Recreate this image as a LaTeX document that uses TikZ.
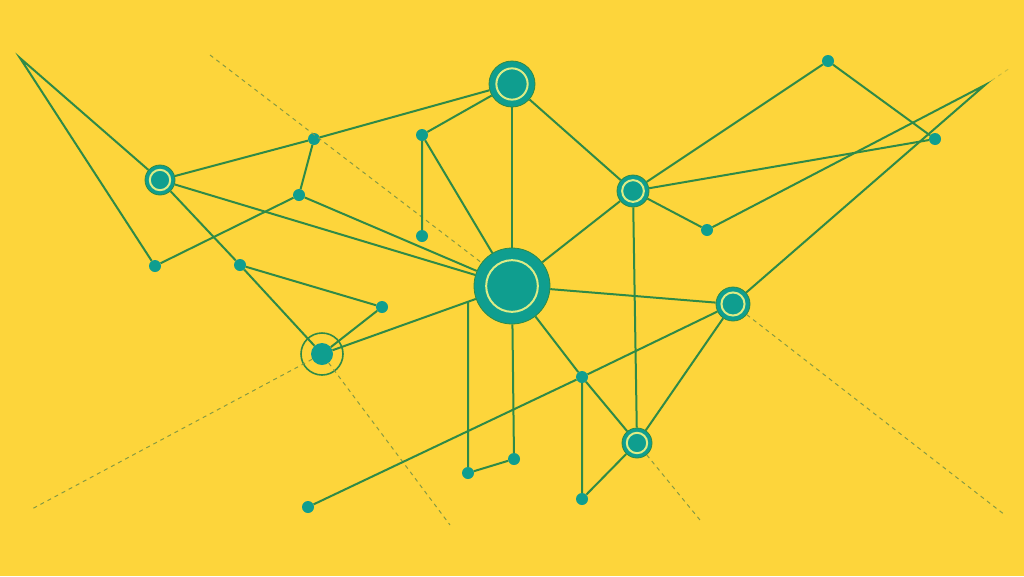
\documentclass[tikz,border=0pt]{standalone}
\usepackage{tikz}
\definecolor{bgyellow}{HTML}{FDD53B}
\definecolor{nodeteal}{HTML}{0F9E8F}
\definecolor{edgegreen}{HTML}{2F8A47}
\definecolor{ringlight}{HTML}{DDEC86}
\definecolor{dashgreen}{HTML}{879A42}
\begin{document}
\begin{tikzpicture}[x=1pt,y=-1pt]
                        \tikzstyle{edge}=[draw=edgegreen, line width=2pt]
                        \tikzstyle{faint}=[draw=dashgreen, line width=1pt, dash pattern=on 4pt off 4pt]
                        \tikzstyle{dot}=[circle, fill=nodeteal, inner sep=0pt, minimum size=12pt]
                        \tikzstyle{hub}=[circle, fill=nodeteal, draw=edgegreen, line width=0.8pt, inner sep=0pt, minimum size=#1,
                            path picture={\draw[ringlight, line width=2pt] (path picture bounding box.center) circle (0.34*#1);}]
                        \fill[bgyellow] (0,0) rectangle (1024,576);
                        \node[hub=76pt] (C) at (512,286) {};
                        \node[hub=46pt] (T) at (512,84) {};
                        \node[hub=30pt] (L) at (160,180) {};
                        \node[hub=32pt] (R1) at (633,191) {};
                        \node[hub=34pt] (R2) at (733,304) {};
                        \node[hub=30pt] (B) at (637,443) {};
                        \node[dot, minimum size=22pt] (O) at (322,354) {};
                        \node[circle, draw=edgegreen, line width=1.6pt, minimum size=42pt] (Oring) at (O) {};
                        \node[dot] (a) at (314,139) {};
                        \node[dot] (b) at (299,195) {};
                        \node[dot] (c) at (422,135) {};
                        \node[dot] (d) at (422,236) {};
                        \node[dot] (e) at (155,266) {};
                        \node[dot] (f) at (240,265) {};
                        \node[dot] (g) at (382,307) {};
                        \node[dot] (h) at (468,473) {};
                        \node[dot] (i) at (514,459) {};
                        \node[dot] (j) at (582,377) {};
                        \node[dot] (k) at (582,499) {};
                        \node[dot] (m) at (308,507) {};
                        \node[dot] (n) at (828,61) {};
                        \node[dot] (p) at (935,139) {};
                        \node[dot] (q) at (707,230) {};
                        \coordinate (apexL) at (20,58);
                        \coordinate (apexR) at (985,85);
                        \coordinate (hC) at (468,302);
                        \coordinate (dTL) at (210,55);
                        \coordinate (dBL) at (30,510);
                        \coordinate (dBR) at (450,525);
                        \coordinate (dR) at (1005,515);
                        \coordinate (dB) at (700,520);
                        \coordinate (dTR) at (1010,68);
                        \draw[faint] (dTL) -- (C);
                        \draw[faint] (O) -- (dBL);
                        \draw[faint] (O) -- (dBR);
                        \draw[faint] (R2) -- (dR);
                        \draw[faint] (B) -- (dB);
                        \draw[faint, draw opacity=0.4] (apexR) -- (dTR);
                        \draw[edge] (e) -- (apexL) -- (L) -- (a) -- (T);
                        \draw[edge] (a) -- (b) -- (e);
                        \draw[edge] (b) -- (C);
                        \draw[edge] (L) -- (C);
                        \draw[edge] (T) -- (c) -- (d);
                        \draw[edge] (c) -- (C);
                        \draw[edge] (T) -- (C);
                        \draw[edge] (T) -- (R1);
                        \draw[edge] (L) -- (f) -- (O);
                        \draw[edge] (f) -- (g) -- (O);
                        \draw[edge] (O) -- (C);
                        \draw[edge] (R1) -- (n) -- (p) -- (R1);
                        \draw[edge] (R1) -- (q) -- (apexR) -- (R2);
                        \draw[edge] (R1) -- (C);
                        \draw[edge] (R1) -- (B);
                        \draw[edge] (C) -- (R2);
                        \draw[edge] (C) -- (j) -- (B);
                        \draw[edge] (j) -- (k) -- (B);
                        \draw[edge] (m) -- (j) -- (R2);
                        \draw[edge] (R2) -- (B);
                        \draw[edge] (hC) -- (h) -- (i) -- (C);
                    \end{tikzpicture}
\end{document}
